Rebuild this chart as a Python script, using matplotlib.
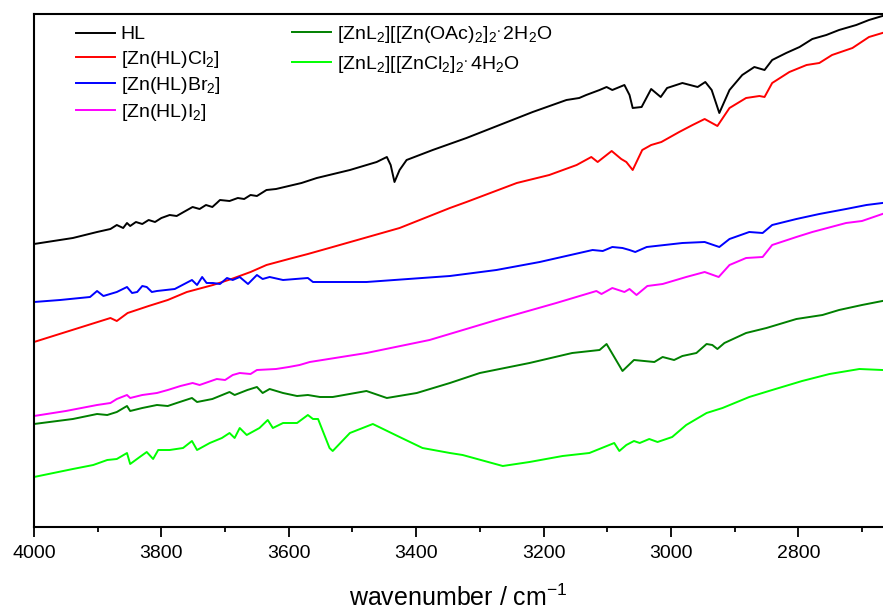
import matplotlib
matplotlib.use("Agg")
import matplotlib.pyplot as plt

plt.rcParams['font.family'] = ['Liberation Sans', 'DejaVu Sans']
plt.rcParams['mathtext.fontset'] = 'custom'
plt.rcParams['mathtext.rm'] = 'Liberation Sans'
plt.rcParams['mathtext.it'] = 'Liberation Sans:italic'
plt.rcParams['mathtext.bf'] = 'Liberation Sans:bold'

# ---- data (wavenumber / cm-1, transmittance in arbitrary offset units) ----
hl_wn = [4000, 3939, 3901, 3880, 3870, 3860, 3854, 3849, 3840, 3830, 3820, 3810, 3800, 3787,
         3776, 3765, 3751, 3740, 3730, 3720, 3713, 3708, 3693, 3680, 3670, 3660, 3650, 3635,
         3620, 3600, 3580, 3556, 3504, 3462, 3446, 3440, 3434, 3426, 3415, 3374, 3321, 3269,
         3217, 3164, 3144, 3133, 3112, 3101, 3092, 3073, 3065, 3060, 3046, 3031, 3016, 3006,
         2982, 2958, 2946, 2936, 2924, 2908, 2888, 2869, 2853, 2841, 2819, 2798, 2778, 2756,
         2736, 2709, 2689, 2668]
hl_t = [283, 289, 295, 298, 302, 299, 304, 301, 305, 303, 307, 305, 309, 312,
        311, 315, 320, 318, 322, 320, 324, 327, 326, 329, 328, 332, 331, 337,
        338, 341, 344, 349, 357, 365, 370, 362, 345, 357, 367, 377, 389, 402,
        415, 427, 429, 432, 437, 440, 437, 442, 432, 419, 420, 438, 430, 439,
        444, 440, 445, 437, 414, 437, 452, 460, 457, 467, 474, 480, 488, 492,
        497, 502, 507, 511]

cl_wn = [4000, 3950, 3900, 3880, 3870, 3853, 3820, 3790, 3760, 3719, 3690, 3660, 3635, 3600,
         3570, 3531, 3426, 3347, 3321, 3242, 3191, 3148, 3125, 3115, 3093, 3078, 3070, 3060,
         3045, 3031, 3015, 2987, 2966, 2947, 2927, 2908, 2882, 2861, 2853, 2841, 2814, 2787,
         2767, 2747, 2715, 2689, 2668]
cl_t = [185, 195, 205, 209, 206, 214, 221, 227, 235, 242, 248, 255, 262, 268,
        273, 280, 299, 319, 325, 344, 352, 362, 370, 365, 376, 368, 365, 357,
        377, 382, 385, 395, 402, 408, 401, 419, 429, 431, 430, 444, 455, 462,
        464, 472, 479, 490, 494]

br_wn = [4000, 3959, 3912, 3901, 3891, 3870, 3854, 3846, 3838, 3830, 3823, 3815, 3807, 3779,
         3752, 3744, 3736, 3729, 3719, 3708, 3697, 3688, 3677, 3664, 3650, 3641, 3630, 3609,
         3570, 3562, 3556, 3478, 3347, 3274, 3206, 3123, 3107, 3092, 3076, 3065, 3056, 3038,
         2982, 2947, 2924, 2908, 2877, 2856, 2841, 2803, 2767, 2725, 2693, 2668]
br_t = [225, 227, 230, 236, 231, 235, 240, 234, 235, 241, 240, 235, 236, 238,
        247, 242, 250, 244, 244, 243, 249, 247, 250, 243, 252, 248, 250, 247,
        249, 245, 245, 245, 251, 257, 265, 277, 276, 280, 279, 277, 275, 280,
        284, 285, 280, 288, 295, 294, 302, 308, 313, 318, 322, 324]

i_wn = [4000, 3950, 3901, 3880, 3870, 3854, 3849, 3830, 3807, 3790, 3770, 3751, 3740, 3713,
        3700, 3688, 3677, 3660, 3650, 3620, 3600, 3583, 3567, 3478, 3379, 3274, 3180, 3117,
        3109, 3092, 3073, 3065, 3054, 3037, 3013, 2976, 2947, 2925, 2908, 2882, 2856, 2841,
        2803, 2778, 2725, 2700, 2668]
i_t = [111, 116, 122, 124, 128, 132, 129, 132, 134, 137, 141, 144, 142, 148,
       147, 152, 154, 153, 157, 158, 160, 162, 165, 174, 187, 207, 224, 236,
       233, 239, 235, 238, 232, 241, 243, 250, 255, 250, 262, 269, 270, 282,
       290, 295, 304, 306, 313]

oac_wn = [4000, 3939, 3901, 3885, 3870, 3854, 3849, 3830, 3807, 3790, 3776, 3752, 3744, 3720,
          3693, 3685, 3665, 3650, 3641, 3630, 3609, 3587, 3570, 3551, 3531, 3478, 3446, 3399,
          3347, 3300, 3222, 3155, 3112, 3101, 3076, 3058, 3026, 3013, 2995, 2982, 2960, 2944,
          2935, 2927, 2916, 2882, 2850, 2803, 2762, 2736, 2700, 2668]
oac_t = [103, 108, 113, 112, 115, 121, 116, 119, 122, 121, 124, 129, 125, 128,
         135, 132, 137, 140, 134, 138, 134, 131, 132, 130, 130, 136, 129, 134,
         144, 154, 164, 174, 177, 183, 156, 167, 165, 170, 167, 171, 174, 183,
         182, 178, 184, 194, 199, 208, 212, 217, 222, 226]

zncl_wn = [4000, 3939, 3907, 3885, 3870, 3854, 3849, 3834, 3823, 3813, 3805, 3787, 3766, 3752,
           3744, 3724, 3705, 3693, 3685, 3677, 3666, 3646, 3633, 3625, 3609, 3587, 3570, 3562,
           3554, 3536, 3531, 3504, 3468, 3426, 3390, 3347, 3327, 3264, 3222, 3170, 3128, 3089,
           3081, 3070, 3058, 3049, 3034, 3021, 2998, 2976, 2944, 2919, 2877, 2841, 2794, 2751,
           2704, 2668]
zncl_t = [50, 58, 62, 67, 68, 74, 63, 70, 75, 68, 77, 77, 79, 86,
          77, 84, 89, 94, 89, 99, 92, 99, 107, 99, 104, 104, 112, 108,
          108, 79, 76, 94, 103, 90, 79, 74, 72, 61, 65, 71, 74, 84,
          76, 82, 86, 84, 88, 85, 90, 102, 114, 119, 130, 137, 146, 153,
          158, 157]

series = [
    (hl_wn, hl_t, '#000000', 'HL'),
    (cl_wn, cl_t, '#ff0000', r'[Zn(HL)Cl$\mathregular{_2}$]'),
    (br_wn, br_t, '#0000ff', r'[Zn(HL)Br$\mathregular{_2}$]'),
    (i_wn, i_t, '#ff00ff', r'[Zn(HL)I$\mathregular{_2}$]'),
    (oac_wn, oac_t, '#008000',
     r'[ZnL$\mathregular{_2}$][[Zn(OAc)$\mathregular{_2}$]$\mathregular{_2}$$\mathregular{^{.}}$2H$\mathregular{_2}$O'),
    (zncl_wn, zncl_t, '#00ff00',
     r'[ZnL$\mathregular{_2}$][[ZnCl$\mathregular{_2}$]$\mathregular{_2}$$\mathregular{^{.}}$4H$\mathregular{_2}$O'),
]

W, H = 883, 610
fig = plt.figure(figsize=(W / 100, H / 100), dpi=100)
ax = fig.add_axes([34 / W, (H - 527) / H, (W - 34) / W, (527 - 14) / H])

lines = []
for wn, t, c, lab in series:
    ln, = ax.plot(wn, t, color=c, lw=1.4, label=lab)
    lines.append(ln)

ax.set_xlim(4000, 2667)
ax.set_ylim(0, 513)
ax.set_yticks([])
ax.set_xticks([4000, 3800, 3600, 3400, 3200, 3000, 2800])
ax.set_xticks([3900, 3700, 3500, 3300, 3100, 2900, 2700], minor=True)
ax.tick_params(axis='x', which='major', direction='out', length=7, width=1.3, labelsize=14, pad=6)
ax.tick_params(axis='x', which='minor', direction='out', length=3.6, width=1.3)
for s in ['left', 'bottom', 'top']:
    ax.spines[s].set_linewidth(1.5)
ax.spines['right'].set_visible(False)
ax.set_xlabel('wavenumber / cm$\\mathregular{^{-1}}$', fontsize=18, labelpad=16)

leg_kw = dict(frameon=False, fontsize=14, handlelength=2.0, handletextpad=0.3,
              borderaxespad=0, borderpad=0)
leg1 = ax.legend(handles=lines[:4], loc='upper left', bbox_to_anchor=(0.0495, 0.977),
                 labelspacing=0.28, **leg_kw)
ax.add_artist(leg1)
ax.legend(handles=lines[4:], loc='upper left', bbox_to_anchor=(0.304, 0.980),
          labelspacing=0.45, **leg_kw)

fig.savefig('out.png', dpi=100)
